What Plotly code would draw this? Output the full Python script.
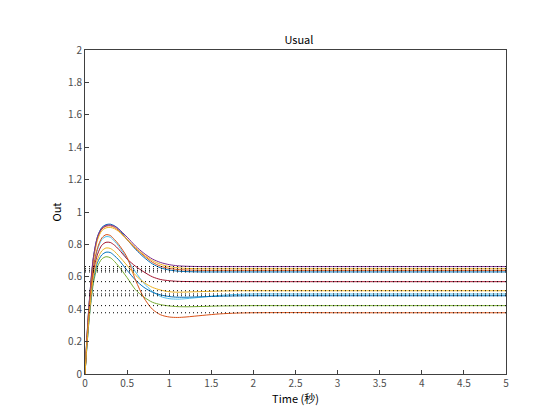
import plotly.graph_objects as go

# time samples (s)
t = [0, 0.02, 0.05, 0.1, 0.15, 0.2, 0.25, 0.3, 0.35, 0.4, 0.5, 0.6, 0.7, 0.8, 0.9,
     1.0, 1.1, 1.2, 1.4, 1.6, 1.8, 2.0, 2.5, 3.0, 4.0, 5.0]

y_blue1 = [0, .20, .44, .72, .85, .905, .922, .925, .915, .895, .83, .77, .72, .68, .655,
           .642, .635, .632, .630, .630, .630, .630, .630, .630, .630, .630]
y_orange1 = [0, .19, .43, .71, .84, .895, .912, .915, .905, .885, .83, .775, .73, .69, .665,
             .652, .645, .642, .640, .640, .640, .640, .640, .640, .640, .640]
y_yellow1 = [0, .19, .42, .70, .83, .885, .902, .905, .897, .88, .83, .78, .735, .70, .677,
             .663, .656, .652, .650, .650, .650, .650, .650, .650, .650, .650]
y_purple = [0, .20, .44, .72, .85, .90, .917, .92, .912, .895, .845, .79, .745, .71, .688,
            .675, .668, .665, .663, .663, .663, .663, .663, .663, .663, .663]
y_green = [0, .15, .34, .56, .665, .71, .724, .718, .695, .665, .595, .52, .475, .443, .428,
           .42, .416, .415, .417, .42, .421, .422, .422, .422, .422, .422]
y_lightblue = [0, .17, .39, .65, .77, .83, .848, .845, .82, .79, .71, .63, .56, .51, .478,
               .465, .462, .465, .475, .485, .491, .494, .494, .494, .494, .494]
y_darkred = [0, .17, .38, .63, .74, .795, .813, .812, .795, .77, .71, .665, .63, .60, .583,
             .576, .572, .571, .570, .570, .570, .570, .570, .570, .570, .570]
y_blue2 = [0, .15, .35, .58, .69, .735, .752, .75, .73, .705, .64, .58, .535, .505, .488,
           .478, .474, .474, .477, .48, .482, .483, .483, .483, .483, .483]
y_orange2 = [0, .18, .40, .66, .78, .84, .86, .855, .83, .80, .72, .58, .47, .40, .365,
             .352, .349, .352, .362, .371, .376, .378, .379, .378, .378, .378]
y_yellow2 = [0, .16, .36, .60, .71, .76, .778, .775, .757, .73, .67, .61, .565, .535, .518,
             .508, .505, .506, .509, .512, .514, .514, .514, .514, .514, .514]

series = [y_blue1, y_orange1, y_yellow1, y_purple, y_green, y_lightblue, y_darkred,
          y_blue2, y_orange2, y_yellow2]
colors = ["#0072BD", "#D95319", "#EDB120", "#7E2F8E", "#77AC30", "#4DBEEE", "#A2142F",
          "#0072BD", "#D95319", "#EDB120"]

final_values = [0.630, 0.640, 0.650, 0.663, 0.422, 0.494, 0.570, 0.483, 0.378, 0.514]
t_end = [0, 5]

x_ticks = [0, 0.5, 1, 1.5, 2, 2.5, 3, 3.5, 4, 4.5, 5]
x_labels = ["0", "0.5", "1", "1.5", "2", "2.5", "3", "3.5", "4", "4.5", "5"]
y_ticks = [0, 0.2, 0.4, 0.6, 0.8, 1, 1.2, 1.4, 1.6, 1.8, 2]
y_labels = ["0", "0.2", "0.4", "0.6", "0.8", "1", "1.2", "1.4", "1.6", "1.8", "2"]

fig = go.Figure()
for ys, c in zip(series, colors):
    fig.add_trace(go.Scatter(x=t, y=ys, mode="lines",
                             line=dict(color=c, width=1.0, shape="spline", smoothing=0.8),
                             showlegend=False, hoverinfo="skip"))
for fv in final_values:
    fig.add_trace(go.Scatter(x=t_end, y=[fv, fv], mode="lines",
                             line=dict(color="black", width=1, dash="1px,3px"),
                             showlegend=False, hoverinfo="skip"))

font = "Noto Sans CJK JP, Noto Sans, sans-serif"
axcol = "#404040"
fig.update_layout(
    width=552, height=412,
    paper_bgcolor="white", plot_bgcolor="white",
    margin=dict(l=77, r=54, t=42, b=46),
    font=dict(family=font, size=10, color="#4d4d4d"),
    title=dict(text="Usual", x=0.527, xanchor="center", y=0.922, yanchor="middle",
               font=dict(family=font, size=11, color="black")),
    xaxis=dict(range=[0, 5], tickvals=x_ticks, ticktext=x_labels,
               showline=True, mirror=True, linecolor=axcol, linewidth=1,
               ticks="inside", ticklen=4, tickcolor=axcol,
               showgrid=False, zeroline=False,
               title=dict(text="Time (秒)", standoff=2, font=dict(size=11, color="black"))),
    yaxis=dict(range=[0, 2], tickvals=y_ticks, ticktext=y_labels,
               showline=True, mirror=True, linecolor=axcol, linewidth=1,
               ticks="inside", ticklen=4, tickcolor=axcol,
               showgrid=False, zeroline=False,
               title=dict(text="Out", standoff=4, font=dict(size=11, color="black"))),
)

fig.write_html("out.html")
